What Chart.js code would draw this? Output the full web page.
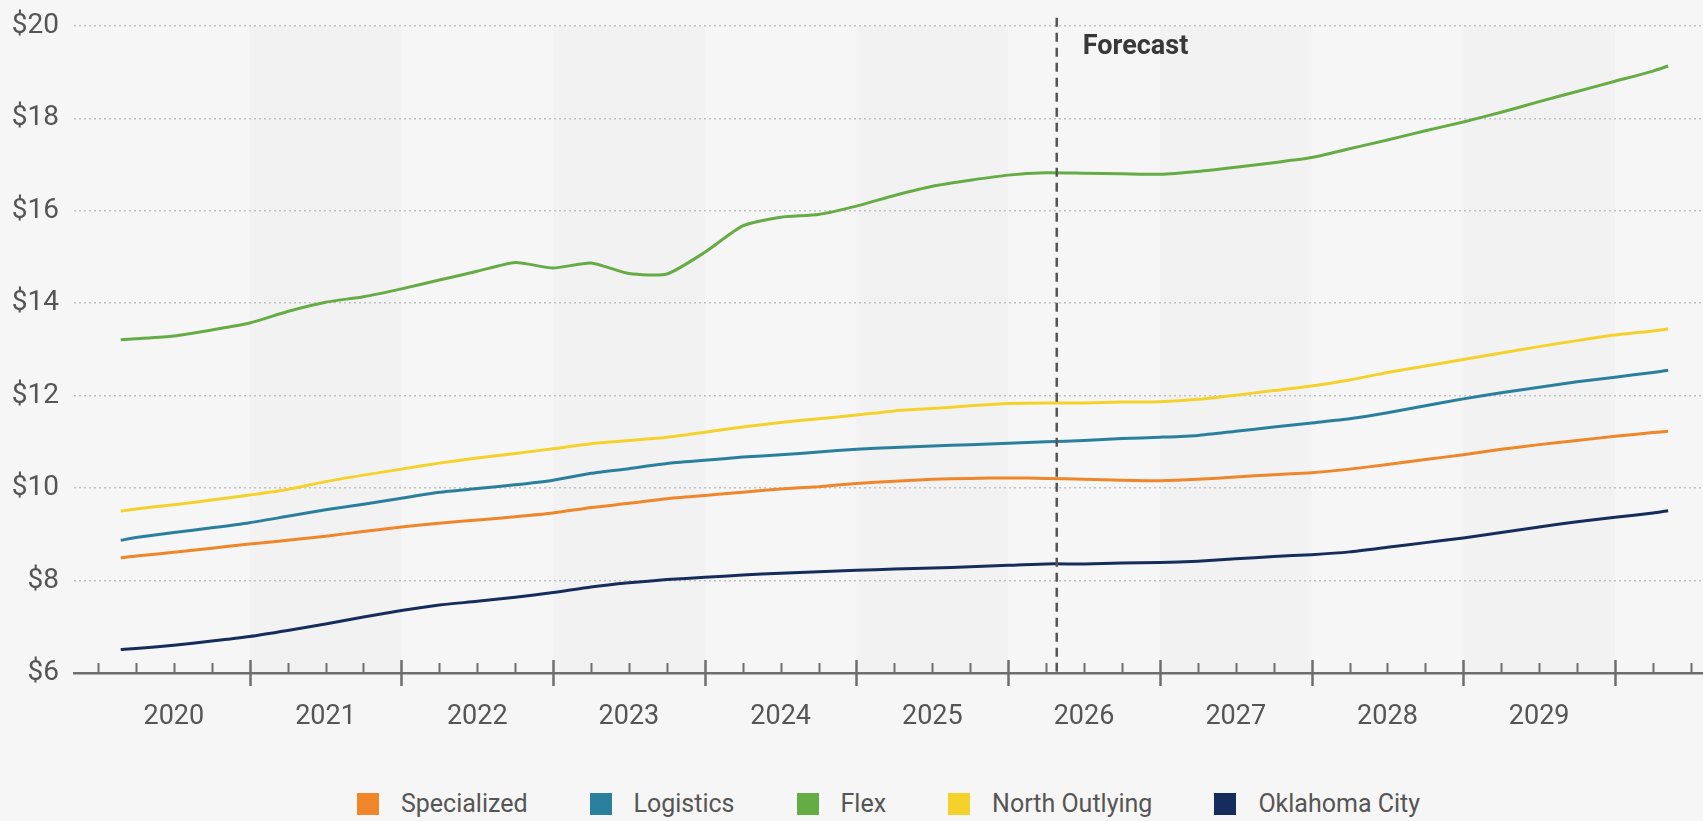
<!DOCTYPE html>
<html>
<head>
<meta charset="utf-8">
<script src="https://cdn.jsdelivr.net/npm/chart.js@4.4.0/dist/chart.umd.min.js"></script>
<style>
    html, body { margin: 0; padding: 0; background: #f6f6f6; }
    #wrap { position: relative; width: 1703px; height: 821px; overflow: hidden; font-family: Roboto, "Noto Sans", sans-serif; }
    #chartBox { position: absolute; left: 0; top: -6px; width: 1703px; height: 766px; }
    #legend { position: absolute; left: 74px; right: 0; top: 791px; display: flex; justify-content: center; align-items: center; gap: 62px; }
    .item { display: flex; align-items: center; font-size: 25px; color: #555; line-height: 26px; }
    .swatch { width: 22px; height: 22px; margin-right: 22px; }
</style>
</head>
<body>
<div id="wrap">
    <div id="chartBox"><canvas id="chart"></canvas></div>
    <div id="legend"></div>
</div>
<script>
// Quarter positions (decimal years); the series start a little into 2020 and end a little into 2030
const PERIODS = [2020.15, 2020.25, 2020.5, 2020.75,
    2021, 2021.25, 2021.5, 2021.75, 2022, 2022.25, 2022.5, 2022.75,
    2023, 2023.25, 2023.5, 2023.75, 2024, 2024.25, 2024.5, 2024.75,
    2025, 2025.25, 2025.5, 2025.75, 2026, 2026.25, 2026.5, 2026.75,
    2027, 2027.25, 2027.5, 2027.75, 2028, 2028.25, 2028.5, 2028.75,
    2029, 2029.25, 2029.5, 2029.75, 2030, 2030.25, 2030.35];

const YEAR_LABELS = ['2020', '2021', '2022', '2023', '2024', '2025', '2026', '2027', '2028', '2029'];
const Y_TICKS = [6, 8, 10, 12, 14, 16, 18, 20];
const FORECAST_START = 2026.32;

const SPECIALIZED = [8.49, 8.53, 8.61, 8.70, 8.79, 8.87, 8.96, 9.06, 9.16, 9.24, 9.31, 9.38,
    9.46, 9.58, 9.67, 9.77, 9.84, 9.91, 9.98, 10.03, 10.10, 10.15, 10.19, 10.21,
    10.22, 10.21, 10.19, 10.17, 10.16, 10.19, 10.24, 10.29, 10.33, 10.41, 10.51, 10.62,
    10.72, 10.84, 10.94, 11.03, 11.12, 11.20, 11.23];
const LOGISTICS = [8.87, 8.93, 9.04, 9.14, 9.25, 9.39, 9.53, 9.65, 9.78, 9.91, 9.99, 10.07,
    10.17, 10.32, 10.42, 10.53, 10.60, 10.67, 10.72, 10.78, 10.84, 10.88, 10.91, 10.94,
    10.97, 11.00, 11.03, 11.07, 11.10, 11.14, 11.23, 11.32, 11.41, 11.50, 11.63, 11.78,
    11.93, 12.06, 12.18, 12.30, 12.40, 12.50, 12.55];
const FLEX = [13.21, 13.23, 13.29, 13.42, 13.57, 13.82, 14.02, 14.14, 14.31, 14.50, 14.69, 14.88,
    14.76, 14.87, 14.64, 14.63, 15.10, 15.67, 15.86, 15.92, 16.10, 16.33, 16.53, 16.66,
    16.77, 16.82, 16.81, 16.80, 16.79, 16.85, 16.94, 17.04, 17.15, 17.34, 17.53, 17.73,
    17.92, 18.13, 18.36, 18.58, 18.80, 19.02, 19.13];
const NORTH_OUTLYING = [9.50, 9.55, 9.64, 9.74, 9.85, 9.97, 10.14, 10.28, 10.41, 10.54, 10.65, 10.75,
    10.85, 10.96, 11.03, 11.10, 11.21, 11.32, 11.42, 11.50, 11.58, 11.67, 11.72, 11.78,
    11.83, 11.84, 11.84, 11.86, 11.87, 11.92, 12.01, 12.11, 12.21, 12.34, 12.50, 12.64,
    12.78, 12.92, 13.06, 13.19, 13.31, 13.40, 13.44];
const OKLAHOMA_CITY = [6.51, 6.53, 6.60, 6.69, 6.79, 6.92, 7.06, 7.21, 7.35, 7.47, 7.55, 7.64,
    7.74, 7.86, 7.95, 8.02, 8.07, 8.12, 8.16, 8.19, 8.22, 8.25, 8.27, 8.30,
    8.33, 8.36, 8.36, 8.38, 8.39, 8.42, 8.47, 8.52, 8.56, 8.62, 8.72, 8.82,
    8.92, 9.04, 9.16, 9.27, 9.37, 9.46, 9.51];

const SERIES = [
    { label: 'Specialized', values: SPECIALIZED, color: '#F0862A' },
    { label: 'Logistics', values: LOGISTICS, color: '#2A7F9C' },
    { label: 'Flex', values: FLEX, color: '#66AC45' },
    { label: 'North Outlying', values: NORTH_OUTLYING, color: '#F5D22B' },
    { label: 'Oklahoma City', values: OKLAHOMA_CITY, color: '#162C5B' }
];

const FONT = 'Roboto, "Noto Sans", sans-serif';
const AXIS_COLOR = '#6e6e6e';

// shaded year columns, quarter ticks on the axis, forecast divider
const decorPlugin = {
    id: 'decor',
    beforeDraw(chart) {
        const { ctx, chartArea } = chart;
        const x = chart.scales.x;
        ctx.save();
        ctx.fillStyle = 'rgba(0,0,0,0.015)';
        YEAR_LABELS.forEach((y, i) => {
            if (i % 2 === 0) return;
            const yr = Number(y);
            const x0 = x.getPixelForValue(yr);
            const x1 = x.getPixelForValue(yr + 1);
            ctx.fillRect(x0, chartArea.top, x1 - x0, chartArea.bottom - chartArea.top);
        });
        ctx.restore();
    },
    afterDatasetsDraw(chart) {
        const { ctx, chartArea } = chart;
        const x = chart.scales.x;
        const base = chartArea.bottom;
        ctx.save();
        ctx.strokeStyle = AXIS_COLOR;
        ctx.lineCap = 'butt';
        for (let k = 0; k <= 42; k++) {
            const v = 2020 + k / 4;
            if (v < x.min || v > x.max) continue;
            const px = Math.round(x.getPixelForValue(v)) + 0.5;
            const major = k % 4 === 0 && v > 2020;
            ctx.lineWidth = major ? 2.5 : 2;
            ctx.beginPath();
            ctx.moveTo(px, major ? base - 13 : base - 10);
            ctx.lineTo(px, major ? base + 13 : base);
            ctx.stroke();
        }

        const fx = x.getPixelForValue(FORECAST_START);
        ctx.strokeStyle = '#555';
        ctx.lineWidth = 2.5;
        ctx.setLineDash([9, 6]);
        ctx.beginPath();
        ctx.moveTo(fx, chartArea.top - 8);
        ctx.lineTo(fx, base);
        ctx.stroke();
        ctx.setLineDash([]);

        ctx.fillStyle = '#383838';
        ctx.font = 'bold 27px ' + FONT;
        ctx.textBaseline = 'middle';
        ctx.textAlign = 'left';
        ctx.fillText('Forecast', fx + 26, chartArea.top + 21);
        ctx.restore();
    }
};

const ctx = document.getElementById('chart').getContext('2d');
const chart = new Chart(ctx, {
    type: 'line',
    data: {
        datasets: SERIES.map(s => ({
            label: s.label,
            data: PERIODS.map((p, i) => ({ x: p, y: s.values[i] })),
            borderColor: s.color,
            backgroundColor: s.color,
            borderWidth: 3,
            pointRadius: 0,
            tension: 0.2,
            fill: false
        }))
    },
    options: {
        responsive: true,
        maintainAspectRatio: false,
        animation: false,
        layout: { padding: { top: 17, left: 0, right: 0, bottom: 0 } },
        plugins: {
            legend: { display: false },
            tooltip: { enabled: false }
        },
        scales: {
            x: {
                type: 'linear',
                min: 2019.842,
                max: 2030.58,
                afterBuildTicks: (axis) => {
                    axis.ticks = YEAR_LABELS.map(y => ({ value: Number(y) + 0.5 }));
                },
                afterFit: (axis) => { axis.height = 87; },
                ticks: {
                    autoSkip: false,
                    maxRotation: 0,
                    padding: 20,
                    color: '#555',
                    font: { family: FONT, size: 27 },
                    callback: (v, i) => YEAR_LABELS[i]
                },
                grid: { display: false },
                border: { display: true, color: AXIS_COLOR, width: 2.5 }
            },
            y: {
                min: 6,
                max: 20,
                afterBuildTicks: (axis) => {
                    axis.ticks = Y_TICKS.map(v => ({ value: v }));
                },
                afterFit: (axis) => { axis.width = 74; },
                ticks: {
                    padding: 15,
                    color: '#555',
                    font: { family: FONT, size: 28 },
                    callback: (v) => '$' + v
                },
                grid: { color: '#c2c2c2', lineWidth: 1.5, drawTicks: false },
                border: { display: false, dash: [2, 3] }
            }
        }
    },
    plugins: [decorPlugin]
});

// legend row, centred under the plot area
const legendEl = document.getElementById('legend');
chart.data.datasets.forEach(ds => {
    const item = document.createElement('div');
    item.className = 'item';
    const sw = document.createElement('span');
    sw.className = 'swatch';
    sw.style.background = ds.borderColor;
    const txt = document.createElement('span');
    txt.textContent = ds.label;
    item.appendChild(sw);
    item.appendChild(txt);
    legendEl.appendChild(item);
});
</script>
</body>
</html>
